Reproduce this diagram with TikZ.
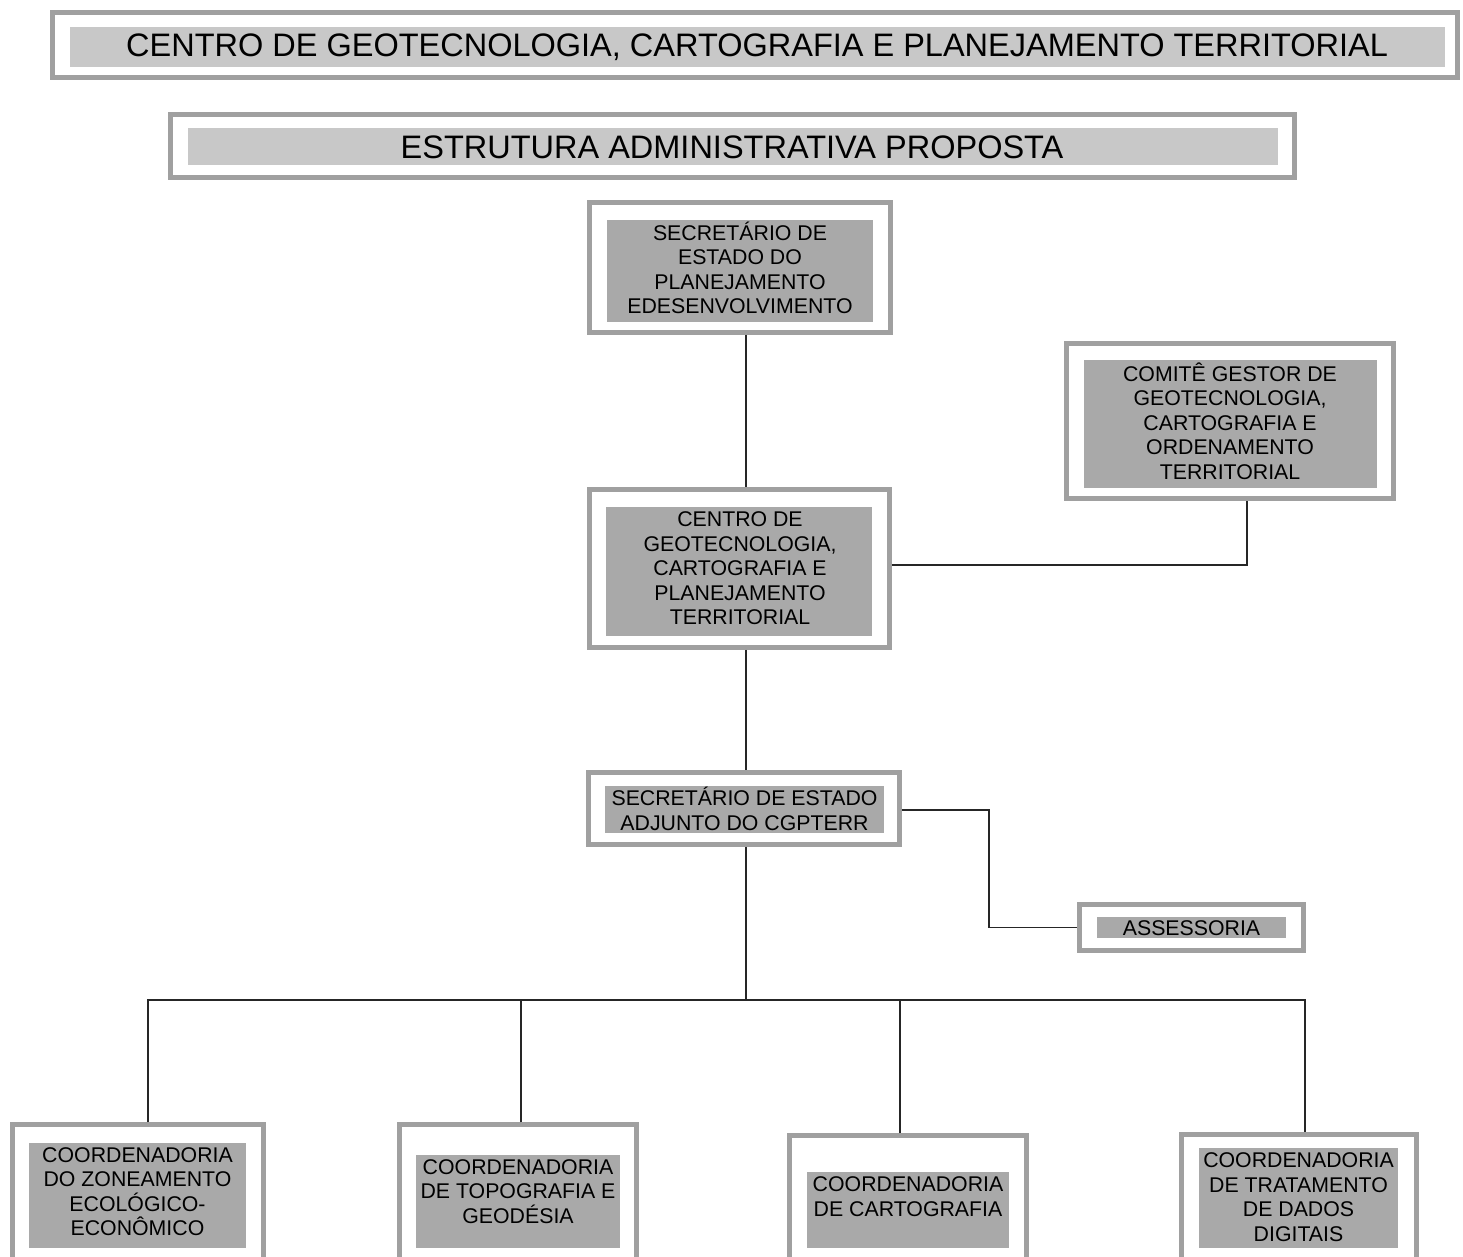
\documentclass[tikz,border=0pt]{standalone}
\usepackage{fontspec}
\setmainfont{Liberation Sans}
\begin{document}
\begin{tikzpicture}[x=1pt,y=-1pt,
  outerbox/.style={draw=borderg, line width=4.5pt, fill=white, inner sep=0pt},
  innerbox/.style={fill=nodefill, draw=none, inner sep=0pt},
  titlebox/.style={fill=titlefill, draw=none, inner sep=0pt},
  boxtext/.style={align=center, inner sep=0pt, font=\fontsize{21.3}{24.5}\selectfont},
  titletext/.style={inner sep=0pt, font=\fontsize{32.5}{36}\selectfont},
  conn/.style={draw=black!85, line width=1.8pt}]
\definecolor{borderg}{HTML}{A0A0A0}
\definecolor{nodefill}{HTML}{A9A9A9}
\definecolor{titlefill}{HTML}{C8C8C8}
\useasboundingbox (0,0) rectangle (1463,1257);
\clip (0,0) rectangle (1463,1257);
\fill[white] (0,0) rectangle (1463,1257);

% titles
\node[outerbox, minimum width=1405pt, minimum height=65pt] (t1O) at (755,45) {};
\node[titlebox, minimum width=1375pt, minimum height=40pt] (t1I) at (757.5,47) {};
\node[titletext] (t1) at (757,47) {CENTRO DE GEOTECNOLOGIA, CARTOGRAFIA E PLANEJAMENTO TERRITORIAL};

\node[outerbox, minimum width=1124pt, minimum height=63pt] (t2O) at (732.5,146) {};
\node[titlebox, minimum width=1090pt, minimum height=37pt] (t2I) at (733,146.5) {};
\node[titletext] (t2) at (732,147) {ESTRUTURA ADMINISTRATIVA PROPOSTA};

% Secretario
\node[outerbox, minimum width=301pt, minimum height=130pt] (secO) at (740,267.5) {};
\node[innerbox, minimum width=266pt, minimum height=102pt] (secI) at (740,271) {};
\node[boxtext] (sec) at (740,268) {SECRETÁRIO DE\\ESTADO DO\\PLANEJAMENTO\\EDESENVOLVIMENTO};

% Comite
\node[outerbox, minimum width=327pt, minimum height=155pt] (comO) at (1230,421) {};
\node[innerbox, minimum width=293pt, minimum height=128pt] (comI) at (1230.5,424) {};
\node[boxtext] (com) at (1230,421) {COMITÊ GESTOR DE\\GEOTECNOLOGIA,\\CARTOGRAFIA E\\ORDENAMENTO\\TERRITORIAL};

% Centro
\node[outerbox, minimum width=300pt, minimum height=158pt] (cenO) at (739.5,568.5) {};
\node[innerbox, minimum width=266pt, minimum height=129pt] (cenI) at (739,571.5) {};
\node[boxtext] (cen) at (740,568.5) {CENTRO DE\\GEOTECNOLOGIA,\\CARTOGRAFIA E\\PLANEJAMENTO\\TERRITORIAL};

% Secretario adjunto
\node[outerbox, minimum width=311pt, minimum height=72pt] (adjO) at (744,808.5) {};
\node[innerbox, minimum width=279pt, minimum height=47pt] (adjI) at (744.5,809.5) {};
\node[boxtext] (adj) at (744.5,809) {SECRETÁRIO DE ESTADO\\ADJUNTO DO CGPTERR};

% Assessoria
\node[outerbox, minimum width=224pt, minimum height=46pt] (assO) at (1191.5,927.5) {};
\node[innerbox, minimum width=189pt, minimum height=21pt] (assI) at (1191.5,927.5) {};
\node[boxtext] (ass) at (1191.5,928) {ASSESSORIA};

% bottom row
\node[outerbox, minimum width=251pt, minimum height=165pt] (b1O) at (138,1207) {};
\node[innerbox, minimum width=217pt, minimum height=105pt] (b1I) at (137.5,1195.5) {};
\node[boxtext] (b1) at (137.5,1191.5) {COORDENADORIA\\DO ZONEAMENTO\\ECOLÓGICO-\\ECONÔMICO};

\node[outerbox, minimum width=237pt, minimum height=165pt] (b2O) at (518,1207) {};
\node[innerbox, minimum width=204pt, minimum height=93pt] (b2I) at (518,1201.5) {};
\node[boxtext] (b2) at (518,1191.5) {COORDENADORIA\\DE TOPOGRAFIA E\\GEODÉSIA};

\node[outerbox, minimum width=237pt, minimum height=154.5pt] (b3O) at (908,1212.75) {};
\node[innerbox, minimum width=202pt, minimum height=76pt] (b3I) at (908,1210) {};
\node[boxtext] (b3) at (908,1196.5) {COORDENADORIA\\DE CARTOGRAFIA};

\node[outerbox, minimum width=235pt, minimum height=155.5pt] (b4O) at (1299,1212.25) {};
\node[innerbox, minimum width=199pt, minimum height=100pt] (b4I) at (1298.5,1198) {};
\node[boxtext] (b4) at (1298.5,1197) {COORDENADORIA\\DE TRATAMENTO\\DE DADOS\\DIGITAIS};

% connectors
\coordinate (jA) at (989,810);
\coordinate (bus) at (746,1000);
\draw[conn] (secO.south -| bus) -- (cenO.north -| bus);
\draw[conn] ([yshift=3.5pt]cenO.east) -| ([xshift=17pt]comO.south);
\draw[conn] (cenO.south -| bus) -- (adjO.north -| bus);
\draw[conn] ([yshift=-1.5pt]adjO.east) -| (jA) |- (assO.west);
\draw[conn] (adjO.south -| bus) -- (bus);
\draw[conn] ([xshift=10pt]b1O.north) |- (bus) -| ([xshift=6pt]b4O.north);
\draw[conn] ([xshift=3pt]b2O.north) -- ([xshift=3pt]b2O.north |- bus);
\draw[conn] ([xshift=-8pt]b3O.north) -- ([xshift=-8pt]b3O.north |- bus);
\end{tikzpicture}
\end{document}
